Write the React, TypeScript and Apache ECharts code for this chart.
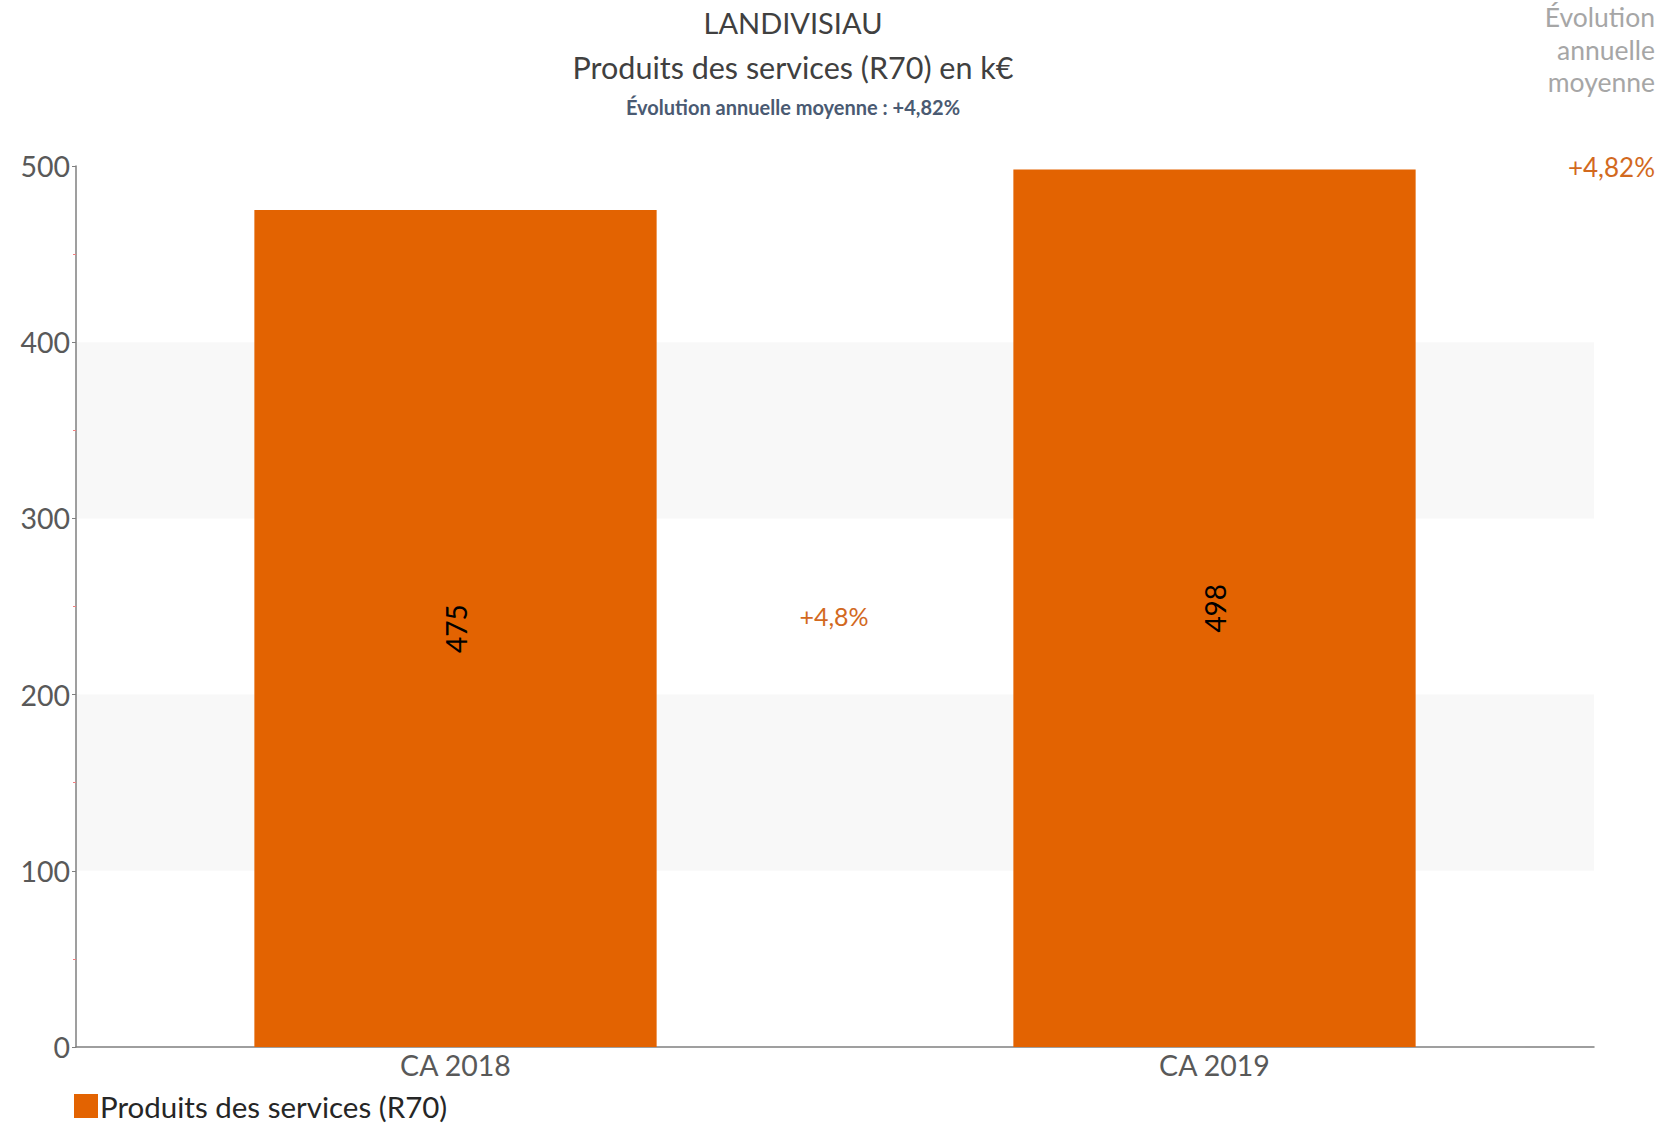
import React, { useEffect, useRef } from "react";
import * as echarts from "echarts";

const categories = ["CA 2018", "CA 2019"];
const values = [475, 498];
const seriesName = "Produits des services (R70)";
const yTicks = [0, 100, 200, 300, 400, 500];
const evolutionLabel = "+4,8%";
const avgEvolution = "+4,82%";

const FONT = "Lato, 'Open Sans', sans-serif";

export default function App() {
  const ref = useRef<HTMLDivElement>(null);
  useEffect(() => {
    if (!ref.current) return;
    const chart = echarts.init(ref.current, undefined, { renderer: "svg" });
    chart.setOption({
      animation: false,
      backgroundColor: "#ffffff",
      textStyle: { fontFamily: FONT },
      title: [
        {
          text: "LANDIVISIAU",
          left: 788,
          textAlign: "center",
          top: 3,
          textStyle: { fontFamily: FONT, fontSize: 29, fontWeight: "normal", color: "#404040" },
        },
        {
          text: "Produits des services (R70) en k€",
          left: 788,
          textAlign: "center",
          top: 46,
          textStyle: { fontFamily: FONT, fontSize: 30.5, fontWeight: "normal", color: "#404040" },
        },
        {
          text: "Évolution annuelle moyenne : " + avgEvolution,
          left: 788,
          textAlign: "center",
          top: 92,
          textStyle: { fontFamily: FONT, fontSize: 20, fontWeight: "bold", color: "#4a5a72" },
        },
      ],
      legend: {
        left: 74,
        top: 1091,
        padding: 0,
        itemWidth: 24,
        itemHeight: 24,
        itemGap: 4,
        icon: "rect",
        textStyle: { fontFamily: FONT, fontSize: 29.5, lineHeight: 28, color: "#262626", padding: [0, 0, 0, -3] },
        data: [seriesName],
      },
      grid: { left: 76, right: 69, top: 166, bottom: 77, containLabel: false },
      xAxis: {
        type: "category",
        data: categories,
        axisLine: { lineStyle: { color: "#7f7f7f", width: 1.5 } },
        axisTick: { show: false },
        axisLabel: { fontFamily: FONT, fontSize: 28.5, color: "#595959", margin: 3 },
      },
      yAxis: {
        type: "value",
        min: yTicks[0],
        max: yTicks[yTicks.length - 1],
        interval: 100,
        axisLine: { show: true, lineStyle: { color: "#7f7f7f", width: 1.5 } },
        axisTick: { show: true, length: 4, lineStyle: { color: "#7f7f7f" } },
        minorTick: { show: true, splitNumber: 2, length: 3, lineStyle: { color: "#f08080" } },
        axisLabel: { fontFamily: FONT, fontSize: 28.5, color: "#595959", margin: 6 },
        splitLine: { show: false },
        splitArea: { show: true, areaStyle: { color: ["rgba(255,255,255,0)", "#f8f8f8"] } },
      },
      graphic: [
        {
          type: "text",
          x: 1655,
          y: 1,
          style: {
            text: "Évolution\nannuelle\nmoyenne",
            align: "right",
            verticalAlign: "top",
            fontFamily: FONT,
            fontSize: 26.5,
            lineHeight: 32.5,
            fill: "#a6a6a6",
          },
        },
        {
          type: "text",
          x: 1655,
          y: 167,
          style: {
            text: avgEvolution,
            align: "right",
            verticalAlign: "middle",
            fontFamily: FONT,
            fontSize: 26,
            fill: "#d2691e",
          },
        },
        {
          type: "text",
          x: 834,
          y: 616,
          style: {
            text: evolutionLabel,
            align: "center",
            verticalAlign: "middle",
            fontFamily: FONT,
            fontSize: 25,
            fill: "#d2691e",
          },
        },
      ],
      series: [
        {
          name: seriesName,
          type: "bar",
          data: values,
          barWidth: "53%",
          itemStyle: { color: "#e36301" },
          label: {
            show: true,
            position: "inside",
            rotate: 90,
            fontFamily: FONT,
            fontSize: 28,
            color: "#000000",
          },
        },
      ],
    });
    return () => chart.dispose();
  }, []);
  return (
    <div
      ref={ref}
      style={{ position: "absolute", left: 0, top: 0, width: 1663, height: 1124 }}
    />
  );
}
